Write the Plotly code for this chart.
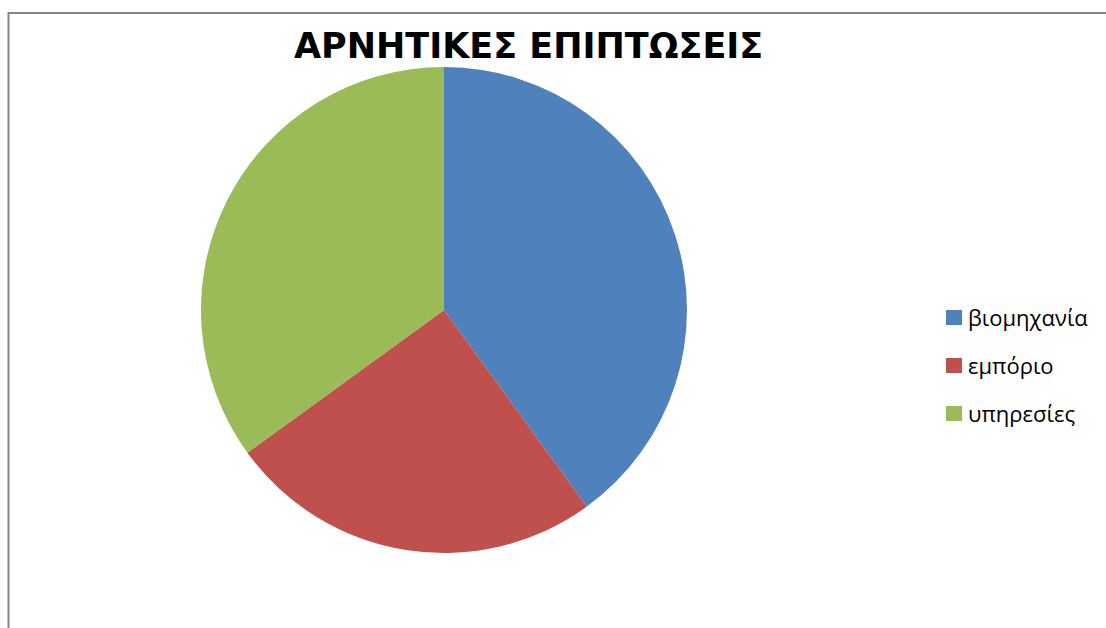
import plotly.graph_objects as go

# Sector shares of the negative impacts
categories = ["βιομηχανία", "εμπόριο", "υπηρεσίες"]
values = [40, 25, 35]
colors = ["#4F81BD", "#C0504D", "#9BBB59"]
title_text = "ΑΡΝΗΤΙΚΕΣ ΕΠΙΠΤΩΣΕΙΣ"

W, H = 1106, 628

fig = go.Figure(
    go.Pie(
        labels=categories,
        values=values,
        marker=dict(colors=colors, line=dict(width=0)),
        sort=False,
        direction="clockwise",
        rotation=0,
        textinfo="none",
        hoverinfo="label+value+percent",
        showlegend=False,
        domain=dict(x=[201 / W, 687 / W], y=[1 - 553 / H, 1 - 67 / H]),
    )
)

# Chart frame
shapes = [
    dict(
        type="rect", xref="paper", yref="paper",
        x0=8.5 / W, y0=-0.05, x1=1.05, y1=1 - 13 / H,
        line=dict(color="#868686", width=2), fillcolor="rgba(0,0,0,0)",
    )
]
annotations = [
    dict(
        text=f"<b>{title_text}</b>", xref="paper", yref="paper",
        x=528 / W, y=1 - 46 / H, xanchor="center", yanchor="middle",
        showarrow=False,
        font=dict(family="DejaVu Sans", size=35, color="#000000"),
    )
]

# Legend entries: colour square plus label
row0, gap = 317.5, 48
for i, (lab, col) in enumerate(zip(categories, colors)):
    yc = row0 + i * gap
    shapes.append(dict(
        type="rect", xref="paper", yref="paper",
        x0=946 / W, x1=962 / W, y0=1 - (yc + 7.5) / H, y1=1 - (yc - 7.5) / H,
        line=dict(width=0), fillcolor=col,
    ))
    annotations.append(dict(
        text=lab, xref="paper", yref="paper",
        x=966 / W, y=1 - (yc - 1) / H, xanchor="left", yanchor="middle",
        showarrow=False,
        font=dict(family="Open Sans", size=22, color="#000000"),
    ))

fig.update_layout(
    width=W, height=H,
    margin=dict(l=0, r=0, t=0, b=0),
    paper_bgcolor="white", plot_bgcolor="white",
    shapes=shapes, annotations=annotations,
)

fig.write_html("out.html")
